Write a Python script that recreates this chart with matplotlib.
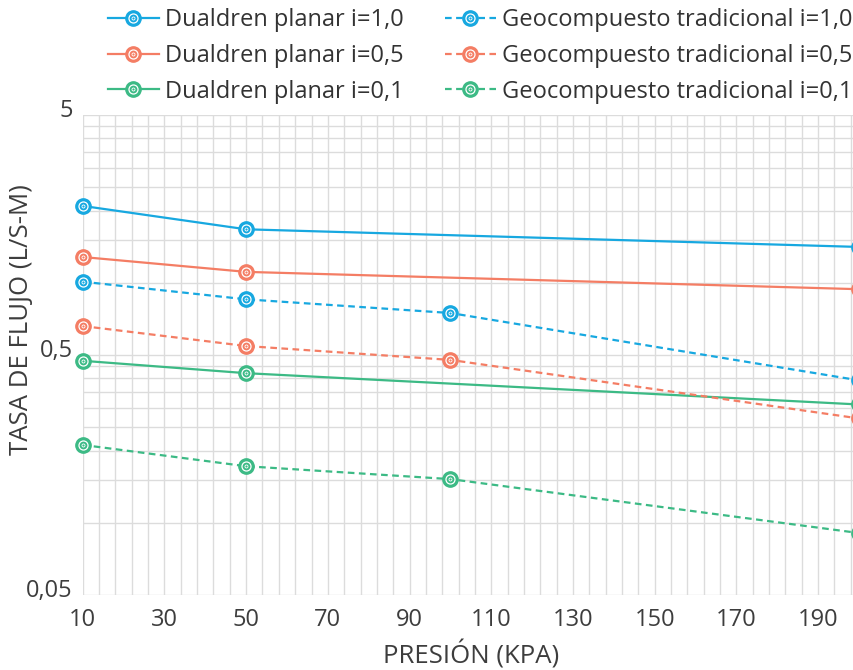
import matplotlib
matplotlib.use('Agg')
import matplotlib.pyplot as plt
import numpy as np
from matplotlib.legend_handler import HandlerTuple
from matplotlib.transforms import ScaledTranslation

plt.rcParams['font.family'] = ['Open Sans', 'DejaVu Sans']

# --------------------------------------------------------------------------- #
#  Data
# --------------------------------------------------------------------------- #
x_dualdren = [10, 50, 200]
x_geo = [10, 50, 100, 200]

dual_10 = [2.09, 1.67, 1.41]
dual_05 = [1.28, 1.11, 0.94]
dual_01 = [0.473, 0.42, 0.311]

geo_10 = [1.01, 0.853, 0.748, 0.392]
geo_05 = [0.66, 0.545, 0.477, 0.272]
geo_01 = [0.211, 0.172, 0.152, 0.0906]

labels_dual = ['Dualdren planar i=1,0', 'Dualdren planar i=0,5', 'Dualdren planar i=0,1']
labels_geo = ['Geocompuesto tradicional i=1,0', 'Geocompuesto tradicional i=0,5',
              'Geocompuesto tradicional i=0,1']

x_ticks = [10, 30, 50, 70, 90, 110, 130, 150, 170, 190]
y_ticks = [0.05, 0.5, 5]
y_ticklabels = ['0,05', '0,5', '5']

BLUE = '#17a8e0'
RED = '#f47d64'
GREEN = '#3cba85'
colors = [BLUE, RED, GREEN]
GRID = '#dcdcdc'
TEXT = '#3d3d3d'
FS = 17

fig = plt.figure(figsize=(8.54, 6.70), dpi=100)
W, H = 854, 670
x0, x1 = 82.7, 859.0
y_top, y_bot = 115.0, 595.0
ax = fig.add_axes([x0 / W, (H - y_bot) / H, (x1 - x0) / W, (y_bot - y_top) / H])


def draw_series(xs, ys, color, ls):
    main, = ax.plot(xs, ys, color=color, lw=1.6, ls=ls, marker='o', ms=11,
                    mfc=color, mec=color, zorder=3, clip_on=False)
    ring, = ax.plot(xs, ys, ls='none', marker='o', ms=6.5, mfc='none',
                    mec='white', mew=0.9, zorder=4, clip_on=False)
    dot, = ax.plot(xs, ys, ls='none', marker='o', ms=2.2, mfc='none',
                   mec='white', mew=0.6, zorder=5, clip_on=False)
    return (main, ring, dot)


dual_series = [dual_10, dual_05, dual_01]
geo_series = [geo_10, geo_05, geo_01]

handles_dual = [draw_series(x_dualdren, ys, c, '-') for ys, c in zip(dual_series, colors)]
handles_geo = [draw_series(x_geo, ys, c, (0, (3, 2))) for ys, c in zip(geo_series, colors)]

ax.set_yscale('log')
ax.set_xlim(10, 200)
ax.set_ylim(0.05, 5)

ax.set_xticks(x_ticks)
ax.set_xticks(np.arange(10, 201, 4), minor=True)
ax.set_yticks(y_ticks)
ax.set_yticklabels(y_ticklabels)
minor_y = [0.05 * k * 10 ** d for d in range(2) for k in range(2, 10)]
ax.set_yticks(minor_y, minor=True)
ax.yaxis.set_minor_formatter(plt.NullFormatter())

ax.grid(True, which='both', color=GRID, lw=1.0)
ax.set_axisbelow(True)
for s in ax.spines.values():
    s.set_visible(False)
ax.tick_params(which='both', length=0)
ax.tick_params(axis='x', labelsize=FS, labelcolor=TEXT, pad=9)
ax.tick_params(axis='y', labelsize=FS, labelcolor=TEXT, pad=7)
for lbl in ax.get_yticklabels():
    lbl.set_transform(lbl.get_transform() + ScaledTranslation(0, 0.07, fig.dpi_scale_trans))

fig.text(471 / W, 1 - 655 / H, 'PRESIÓN (KPA)', ha='center', va='center',
         fontsize=18.5, color=TEXT)
fig.text(22 / W, 1 - 320 / H, 'TASA DE FLUJO (L/S-M)', ha='center', va='center',
         rotation=90, fontsize=18.5, color=TEXT)

# one legend per column so each can be placed where the reference has it
hmap = {tuple: HandlerTuple(ndivide=1, pad=0)}
leg_kw = dict(handler_map=hmap, loc='upper left', frameon=False, fontsize=FS,
              labelcolor='#333333', handlelength=2.15, handletextpad=0.25,
              labelspacing=0.5, borderpad=0, borderaxespad=0)
fig.legend(handles_dual, labels_dual, bbox_to_anchor=(108 / W, 1 - 8 / H), **leg_kw)
fig.legend(handles_geo, labels_geo, bbox_to_anchor=(445 / W, 1 - 8 / H), **leg_kw)

fig.savefig('out.png', dpi=100)
